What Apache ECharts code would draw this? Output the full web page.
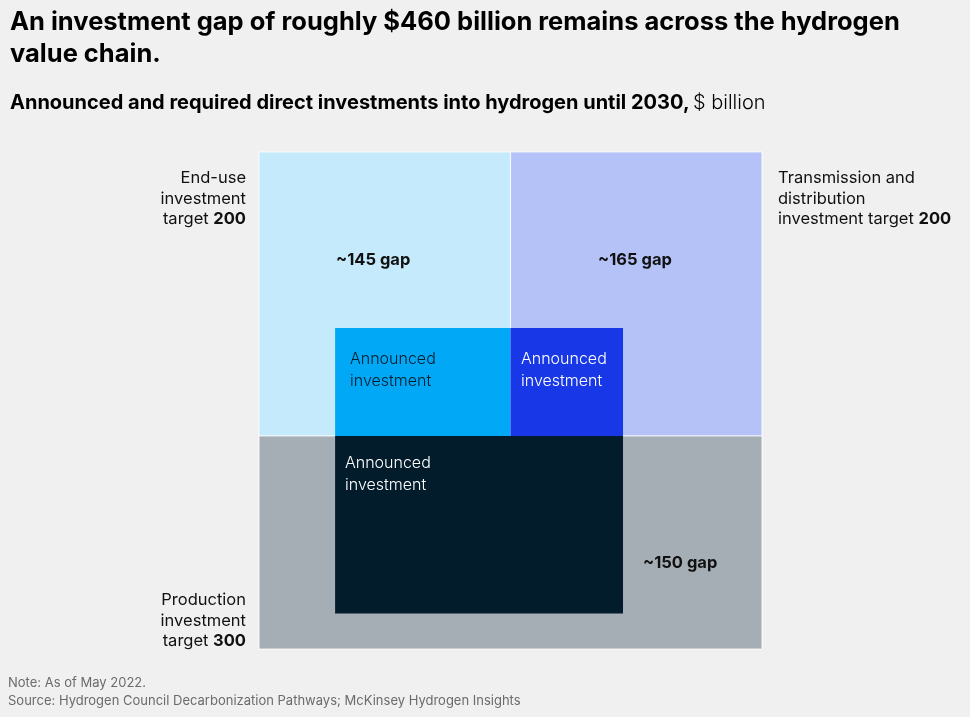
<!DOCTYPE html>
<html>
<head>
<meta charset="utf-8">
<script src="https://cdn.jsdelivr.net/npm/echarts@6/dist/echarts.min.js"></script>
<style>
html,body{margin:0;padding:0;background:#f0f0f0;}
#chart{width:970px;height:717px;}
</style>
</head>
<body>
<div id="chart"></div>
<script>
// ---- Data ($ billion) ----
const segments = ['End-use', 'Transmission and distribution', 'Production'];
const targets = [200, 200, 300];
const announced = [53, 34, 143];
const gapLabels = ['~145 gap', '~165 gap', '~150 gap'];

// ---- Colours ----
const targetColors = ['#c4eafb', '#b4c2f8', '#a6aeb5'];
const announcedColors = ['#00a8f5', '#1838e8', '#021c2c'];

const FONT = 'Inter, "Noto Sans", sans-serif';

// Area-proportional layout in value units
const total = targets.reduce((a, b) => a + b, 0);
const aspect = 503 / 497;
const W = Math.sqrt(total * aspect);
const H = total / W;
const topRow = (targets[0] + targets[1]) / W;
const xMid = W * targets[0] / (targets[0] + targets[1]);
const announcedTopShare = 0.38;
const ha = announcedTopShare * topRow;
const w1 = announced[0] / ha;
const w2 = announced[1] / ha;
const wp = w1 + w2;
const hp = announced[2] / wp;

const rects = [
  // [x0, y0, x1, y1, color, stroke]
  [0, 0, xMid, topRow, targetColors[0], 1],
  [xMid, 0, W, topRow, targetColors[1], 1],
  [0, topRow, W, H, targetColors[2], 1],
  [xMid - w1, topRow - ha, xMid, topRow, announcedColors[0], 0],
  [xMid, topRow - ha, xMid + w2, topRow, announcedColors[1], 0],
  [xMid - w1, topRow, xMid - w1 + wp, topRow + hp, announcedColors[2], 0]
];

const chart = echarts.init(document.getElementById('chart'), null, {renderer: 'canvas'});

function sideText(x, y, align, lines, boldVal) {
  return {
    type: 'text', z: 100, left: align === 'right' ? null : x, right: align === 'right' ? 970 - x : null, top: y,
    style: {
      rich: {
        n: {fontFamily: FONT, fontSize: 16.5, lineHeight: 20.5, fill: '#111', fontWeight: 400, align: align},
        b: {fontFamily: FONT, fontSize: 16.5, lineHeight: 20.5, fill: '#111', fontWeight: 700, align: align}
      },
      text: lines.map((l, i) => i === lines.length - 1 ? '{n|' + l + ' }{b|' + boldVal + '}' : '{n|' + l + '}').join('\n'),
      textAlign: align
    }
  };
}

function annText(x, y, color) {
  return {
    type: 'text', z: 100, left: x, top: y,
    style: {text: 'Announced\ninvestment', fontFamily: FONT, fontSize: 16, fontWeight: 300, lineHeight: 22, fill: color}
  };
}
function gapText(x, y, t) {
  return {
    type: 'text', z: 100, left: x, top: y,
    style: {text: t, fontFamily: FONT, fontSize: 16.5, fontWeight: 700, fill: '#111'}
  };
}

const option = {
  backgroundColor: '#f0f0f0',
  animation: false,
  grid: {left: 259, top: 152, width: 503, height: 497},
  xAxis: {type: 'value', min: 0, max: W, show: false},
  yAxis: {type: 'value', min: 0, max: H, inverse: true, show: false},
  series: [{
    type: 'custom',
    z: 2,
    data: rects,
    renderItem: function (params, api) {
      const d = rects[params.dataIndex];
      const p0 = api.coord([d[0], d[1]]);
      const p1 = api.coord([d[2], d[3]]);
      return {
        type: 'rect',
        shape: {x: p0[0], y: p0[1], width: p1[0] - p0[0], height: p1[1] - p0[1]},
        style: {fill: d[4], stroke: d[5] ? 'rgba(255,255,255,0.75)' : null, lineWidth: d[5] ? 1.2 : 0}
      };
    },
    encode: {x: [0, 2], y: [1, 3]}
  }],
  graphic: [
    {type: 'text', z: 100, left: 10, top: 6, style: {
      text: 'An investment gap of roughly $460 billion remains across the hydrogen\nvalue chain.',
      fontFamily: FONT, fontSize: 25.5, fontWeight: 700, lineHeight: 32, fill: '#000'}},
    {type: 'text', z: 100, left: 10, top: 93, style: {
      rich: {
        b: {fontFamily: FONT, fontSize: 20, fontWeight: 700, fill: '#000'},
        n: {fontFamily: FONT, fontSize: 20, fontWeight: 300, fill: '#000'}
      },
      text: '{b|Announced and required direct investments into hydrogen until 2030,} {n|$ billion}'}},
    sideText(246, 170, 'right', ['End-use', 'investment', 'target'], targets[0]),
    sideText(778, 170, 'left', ['Transmission and', 'distribution', 'investment target'], targets[1]),
    sideText(246, 592, 'right', ['Production', 'investment', 'target'], targets[2]),
    gapText(336, 252, gapLabels[0]),
    gapText(598, 252, gapLabels[1]),
    gapText(643, 555, gapLabels[2]),
    annText(350, 348, '#021c2c'),
    annText(521, 348, '#ffffff'),
    annText(345, 452, '#ffffff'),
    {type: 'text', z: 100, left: 8, top: 674, style: {
      text: 'Note: As of May 2022.\nSource: Hydrogen Council Decarbonization Pathways; McKinsey Hydrogen Insights',
      fontFamily: FONT, fontSize: 13, lineHeight: 18, fill: '#6b6b6b'}}
  ]
};
chart.setOption(option);
</script>
</body>
</html>
